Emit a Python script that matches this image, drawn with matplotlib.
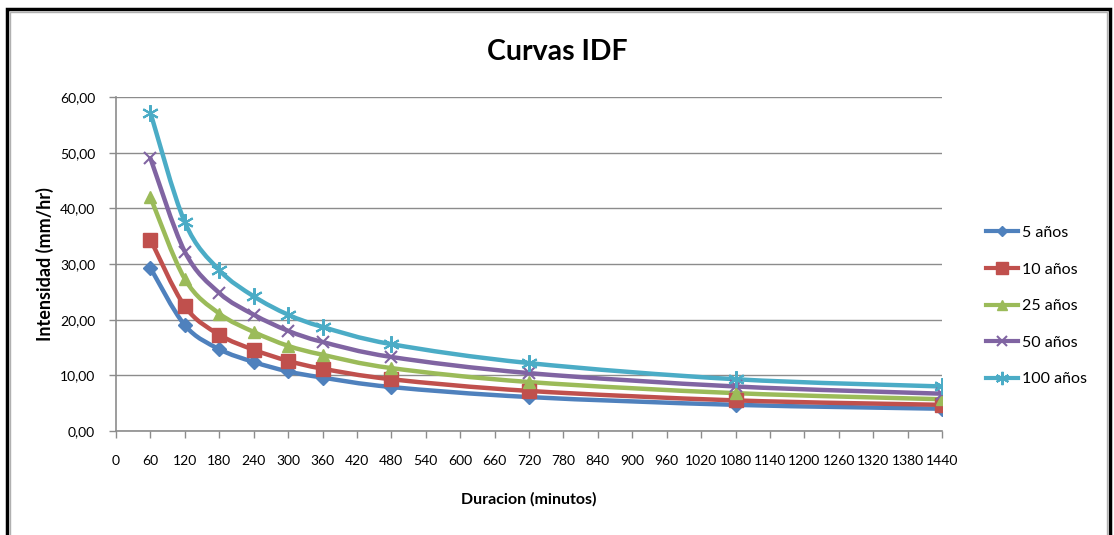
import numpy as np
import matplotlib.pyplot as plt
from matplotlib.path import Path
from matplotlib.patches import PathPatch, Rectangle
from matplotlib.lines import Line2D
from matplotlib.ticker import FuncFormatter

plt.rcParams['font.family'] = ['Lato', 'DejaVu Sans']

duracion = [60, 120, 180, 240, 300, 360, 480, 720, 1080, 1440]
i_5 = [29.3, 19.0, 14.7, 12.4, 10.7, 9.6, 7.9, 6.1, 4.7, 4.0]
i_10 = [34.4, 22.4, 17.3, 14.6, 12.6, 11.2, 9.3, 7.2, 5.5, 4.7]
i_25 = [42.0, 27.3, 21.1, 17.8, 15.3, 13.7, 11.3, 8.8, 6.8, 5.7]
i_50 = [49.0, 32.2, 24.8, 20.9, 18.0, 16.0, 13.3, 10.4, 8.0, 6.7]
i_100 = [57.2, 37.5, 28.9, 24.2, 20.9, 18.7, 15.6, 12.2, 9.3, 8.0]
etiquetas = ['5 años', '10 años', '25 años', '50 años', '100 años']

series = [i_5, i_10, i_25, i_50, i_100]
colores = ['#4F81BD', '#C0504D', '#9BBB59', '#8064A2', '#4BACC6']
marcas = ['D', 's', '^', 'x', (6, 2, 0)]
tamanos = [7, 10, 9, 9, 12]


def curva_suave(x, y):
    # bezier tipo excel (catmull-rom), solo para el trazo
    p = np.column_stack([x, y]).astype(float)
    n = len(p)
    verts = [p[0]]
    codes = [Path.MOVETO]
    for k in range(n - 1):
        p0 = p[k - 1] if k > 0 else p[k]
        p3 = p[k + 2] if k + 2 < n else p[k + 1]
        c1 = p[k] + (p[k + 1] - p0) / 6
        c2 = p[k + 1] - (p3 - p[k]) / 6
        verts += [c1, c2, p[k + 1]]
        codes += [Path.CURVE4] * 3
    return Path(verts, codes)


fig = plt.figure(figsize=(11.14, 5.35), dpi=100)
ax = fig.add_axes([116 / 1114, 1 - 431 / 535, 826 / 1114, 334 / 535])

for y, c, m, s, lab in zip(series, colores, marcas, tamanos, etiquetas):
    ax.add_patch(PathPatch(curva_suave(duracion, y), fill=False, edgecolor=c,
                           linewidth=3.2, zorder=3, capstyle='round'))
    ax.plot(duracion, y, linestyle='none', marker=m, markersize=s, color=c,
            markeredgewidth=1.5 if m in ('x', (6, 2, 0)) else 1, zorder=4)

ax.set_xlim(0, 1440)
ax.set_ylim(0, 60)
ax.set_xticks(np.arange(0, 1441, 60))
ax.set_yticks(np.arange(0, 61, 10))
ax.yaxis.set_major_formatter(FuncFormatter(lambda v, p: f'{v:.2f}'.replace('.', ',')))
ax.grid(axis='y', color='#8c8c8c', linewidth=1)
ax.set_axisbelow(True)
for sp in ['top', 'right']:
    ax.spines[sp].set_visible(False)
for sp in ['left', 'bottom']:
    ax.spines[sp].set_color('#8c8c8c')
    ax.spines[sp].set_linewidth(1.2)
ax.tick_params(axis='both', colors='#8c8c8c', labelcolor='black', labelsize=10,
               length=5, width=1)
ax.tick_params(axis='x', pad=12)
ax.tick_params(axis='y', pad=10)

ax.set_xlabel('Duracion (minutos)', fontsize=11.5, fontweight='bold', labelpad=18)
ax.set_ylabel('Intensidad (mm/hr)', fontsize=13, fontweight='bold', labelpad=4)
fig.text(557 / 1114, 1 - 52 / 535, 'Curvas IDF', fontsize=20.5, fontweight='bold',
         ha='center', va='center')

handles = [Line2D([], [], color=c, marker=m, markersize=s * 0.8, linewidth=3,
                  markeredgewidth=1.5 if m in ('x', (6, 2, 0)) else 1)
           for c, m, s in zip(colores, marcas, tamanos)]
fig.legend(handles, etiquetas, loc='center left', bbox_to_anchor=(972 / 1114, 1 - 306 / 535),
           frameon=False, fontsize=11.5, handlelength=2.0, handletextpad=0.2,
           labelspacing=1.4)

# marco del grafico
fig.add_artist(Rectangle((7 / 1114, -0.05), 1103 / 1114, 1.05 - 9 / 535,
                         transform=fig.transFigure, fill=False, edgecolor='black', linewidth=2.5))
fig.add_artist(Rectangle((10 / 1114, -0.05), 1097 / 1114, 1.05 - 12 / 535,
                         transform=fig.transFigure, fill=False, edgecolor='#b0b0b0', linewidth=1))

fig.savefig('out.png', dpi=100)
